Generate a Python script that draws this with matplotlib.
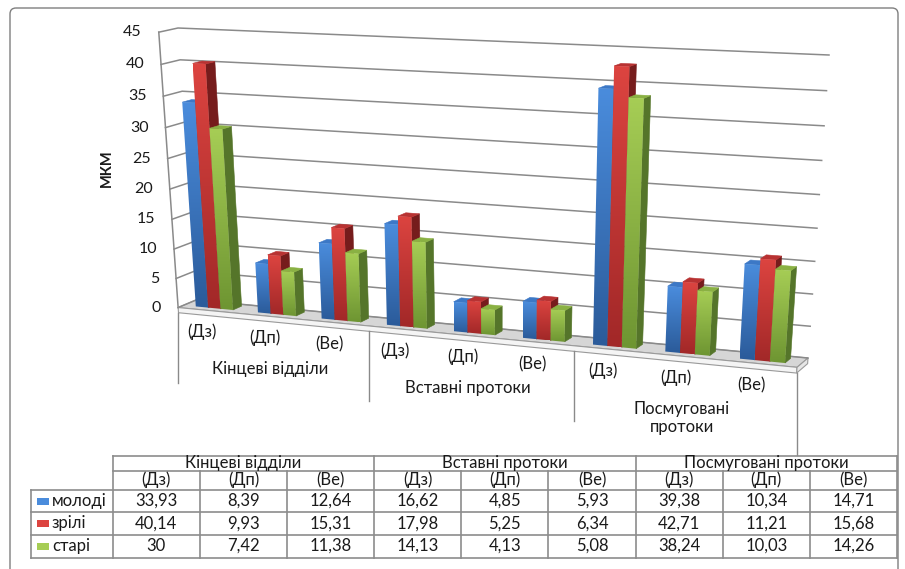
import numpy as np
import matplotlib
matplotlib.use("Agg")
import matplotlib.pyplot as plt
from matplotlib.patches import Polygon, Rectangle, FancyBboxPatch
from matplotlib.colors import to_rgb

plt.rcParams['font.family'] = ['Lato', 'Open Sans', 'DejaVu Sans']

# ---------------- data ----------------
groups = ["Кінцеві відділи", "Вставні протоки", "Посмуговані\nпротоки"]
groups_table = ["Кінцеві відділи", "Вставні протоки", "Посмуговані протоки"]
subcats = ["(Дз)", "(Дп)", "(Ве)"]
series_names = ["молоді", "зрілі", "старі"]
young = [33.93, 8.39, 12.64, 16.62, 4.85, 5.93, 39.38, 10.34, 14.71]
mature = [40.14, 9.93, 15.31, 17.98, 5.25, 6.34, 42.71, 11.21, 15.68]
old = [30, 7.42, 11.38, 14.13, 4.13, 5.08, 38.24, 10.03, 14.26]
value_ticks = [0, 5, 10, 15, 20, 25, 30, 35, 40, 45]
axis_title = "МКМ"

series_values = [young, mature, old]
n_cat = len(young)
n_sub = len(subcats)
y_top = value_ticks[-1]

# ---------------- style ----------------
W, H = 905, 569
front_grad = [("#4a8cdc", "#2b5b9a"), ("#dc4440", "#a22828"), ("#a6cd55", "#6e9532")]
side_col = ["#244a78", "#761c1c", "#55752a"]
top_col = ["#3c78c6", "#b83232", "#8ab143"]
grid_col = "#8a8a8a"
text_col = "#1a1a1a"

# 3D frame on the canvas: back wall corners (category, value) and front edge corners
back_corners = {(0, 0): (196, 300), (0, y_top): (178, 28),
                (n_cat, y_top): (829, 55), (n_cat, 0): (808, 358)}
front_corners = {(0, 0): (177, 308), (0, y_top): (160, 32), (n_cat, 0): (797, 367)}


def homography(src, dst):
    A, b = [], []
    for (x, y), (u, v) in zip(src, dst):
        A.append([x, y, 1, 0, 0, 0, -u * x, -u * y]); b.append(u)
        A.append([0, 0, 0, x, y, 1, -v * x, -v * y]); b.append(v)
    h = np.linalg.solve(np.array(A, float), np.array(b, float))
    return np.append(h, 1.0).reshape(3, 3)


Hb = homography(list(back_corners.keys()), list(back_corners.values()))
rows, rhs = [], []
for (x, y), (u, v) in front_corners.items():
    base = Hb @ np.array([x, y, 1.0])
    rows.append([1, 0, -u]); rhs.append(u * base[2] - base[0])
    rows.append([0, 1, -v]); rhs.append(v * base[2] - base[1])
depth_col = np.linalg.lstsq(np.array(rows, float), np.array(rhs, float), rcond=None)[0]
CAM = np.column_stack([Hb[:, 0], Hb[:, 1], depth_col, Hb[:, 2]])


def project(pts):
    """(category, value, depth) -> canvas pixels; depth 0 = back wall, 1 = front."""
    P = np.column_stack([np.asarray(pts, float), np.ones(len(pts))])
    q = P @ CAM.T
    return q[:, :2] / q[:, 2:3]


fig = plt.figure(figsize=(W / 100, H / 100), dpi=100)
ax = fig.add_axes([0, 0, 1, 1])
ax.set_xlim(0, W)
ax.set_ylim(H, 0)
ax.axis("off")

# chart border
ax.add_patch(FancyBboxPatch((10, 8), 888, 600, boxstyle="round,pad=0,rounding_size=6",
                            fc="none", ec="#7f7f7f", lw=1.0, zorder=1))

# floor slab
slab = -0.9
floor_top = project([(0, 0, 0), (n_cat, 0, 0), (n_cat, 0, 1), (0, 0, 1)])
floor_front = project([(0, 0, 1), (n_cat, 0, 1), (n_cat, slab, 1), (0, slab, 1)])
floor_end = project([(n_cat, 0, 0), (n_cat, 0, 1), (n_cat, slab, 1), (n_cat, slab, 0)])
ax.add_patch(Polygon(floor_top, closed=True, fc="#d6d6d6", ec="#9a9a9a", lw=0.8, zorder=2))
ax.add_patch(Polygon(floor_front, closed=True, fc="#f4f4f4", ec="#9a9a9a", lw=0.8, zorder=2))
ax.add_patch(Polygon(floor_end, closed=True, fc="#e6e6e6", ec="#9a9a9a", lw=0.8, zorder=2))

# gridlines on the left and back walls
for t in value_ticks:
    line = project([(0, t, 1), (0, t, 0), (n_cat, t, 0)])
    ax.plot(line[:, 0], line[:, 1], color=grid_col, lw=1.1, zorder=2.5)
    lab = project([(0, t, 1)])[0]
    ax.text(lab[0] - 17, lab[1], str(t), ha="right", va="center", fontsize=11.5,
            color=text_col, zorder=6)
edge = project([(0, 0, 1), (0, y_top, 1)])
ax.plot(edge[:, 0], edge[:, 1], color=grid_col, lw=1.1, zorder=2.5)

ax.text(107, 168, axis_title, rotation=90, ha="center", va="center", fontsize=10.5,
        fontweight="bold", color=text_col)

# 3D columns
gap = 0.2          # fraction of a category slot on each side of the cluster
bar_w = (1 - 2 * gap) / len(series_values)
z_front, z_back = 0.7, 0.2
grad = np.linspace(0, 1, 64)[:, None, None]
zo = 3.0
for i in range(n_cat):
    for s, vals in enumerate(series_values):
        v = vals[i]
        x0 = i + gap + s * bar_w
        x1 = x0 + bar_w
        side = project([(x1, 0, z_front), (x1, v, z_front), (x1, v, z_back), (x1, 0, z_back)])
        top = project([(x0, v, z_front), (x1, v, z_front), (x1, v, z_back), (x0, v, z_back)])
        front = project([(x0, 0, z_front), (x1, 0, z_front), (x1, v, z_front), (x0, v, z_front)])
        ax.add_patch(Polygon(side, closed=True, fc=side_col[s], ec=side_col[s], lw=0.4, zorder=zo))
        ax.add_patch(Polygon(top, closed=True, fc=top_col[s], ec=top_col[s], lw=0.4, zorder=zo))
        c_top, c_bot = np.array(to_rgb(front_grad[s][0])), np.array(to_rgb(front_grad[s][1]))
        img = c_top * (1 - grad) + c_bot * grad
        clip = Polygon(front, closed=True, fc="none", ec="none", zorder=zo)
        ax.add_patch(clip)
        im = ax.imshow(img, extent=(front[:, 0].min(), front[:, 0].max(),
                                    front[:, 1].max(), front[:, 1].min()),
                       origin="upper", aspect="auto", interpolation="bilinear", zorder=zo + 0.01)
        im.set_clip_path(clip)
        zo += 0.02
ax.set_xlim(0, W)
ax.set_ylim(H, 0)

# category labels, group labels and separators below the floor
drop = -0.9
fs_cat = 12
for i in range(n_cat):
    p = project([(i + 0.5, drop, 1)])[0]
    ax.text(p[0] - 7, p[1] + 16, subcats[i % n_sub], ha="center", va="center",
            fontsize=fs_cat, color=text_col)
for g, name in enumerate(groups):
    a = project([(g * n_sub, drop, 1)])[0]
    b = project([((g + 1) * n_sub, drop, 1)])[0]
    ax.text((a[0] + b[0]) / 2 - 4, (a[1] + b[1]) / 2 + 39, name, ha="center", va="top",
            fontsize=fs_cat, color=text_col, linespacing=1.15)
for k in range(len(groups) + 1):
    p = project([(k * n_sub, drop, 1)])[0]
    length = 82 if k == len(groups) else 70
    ax.plot([p[0], p[0]], [p[1], p[1] + length], color=grid_col, lw=1.0, zorder=2)

# data table
tab_left, tab_right, key_left = 112.7, 897.0, 30.7
row_edges = [455.7, 471.3, 490.0, 512.3, 535.0, 558.0]
col_w = (tab_right - tab_left) / n_cat
tcol = "#8c8c8c"
tlw = 1.2
ax.plot([tab_left, tab_right], [row_edges[0]] * 2, color=tcol, lw=tlw)
ax.plot([tab_left, tab_right], [row_edges[1]] * 2, color=tcol, lw=tlw)
for y in row_edges[2:]:
    ax.plot([key_left, tab_right], [y, y], color=tcol, lw=tlw)
ax.plot([key_left, key_left], [row_edges[2], row_edges[-1]], color=tcol, lw=tlw)
for c in range(n_cat + 1):
    x = tab_left + c * col_w
    y0 = row_edges[0] if c % n_sub == 0 else row_edges[1]
    ax.plot([x, x], [y0, row_edges[-1]], color=tcol, lw=tlw)
fs_t = 12
for g, name in enumerate(groups_table):
    xc = tab_left + (g * n_sub + n_sub / 2) * col_w
    ax.text(xc, (row_edges[0] + row_edges[1]) / 2 - 0.5, name, ha="center", va="center",
            fontsize=fs_t, color=text_col)
for i in range(n_cat):
    xc = tab_left + (i + 0.5) * col_w
    ax.text(xc, (row_edges[1] + row_edges[2]) / 2 - 0.5, subcats[i % n_sub], ha="center",
            va="center", fontsize=fs_t, color=text_col)
for s, vals in enumerate(series_values):
    yc = (row_edges[2 + s] + row_edges[3 + s]) / 2
    ax.add_patch(Rectangle((37, yc - 3.5), 12, 7, fc=front_grad[s][0], ec="none"))
    ax.text(52, yc - 0.5, series_names[s], ha="left", va="center", fontsize=fs_t, color=text_col)
    for i, v in enumerate(vals):
        xc = tab_left + (i + 0.5) * col_w
        ax.text(xc, yc - 0.5, f"{v:g}".replace(".", ","), ha="center", va="center",
                fontsize=fs_t, color=text_col)

fig.savefig("out.png", dpi=100)
